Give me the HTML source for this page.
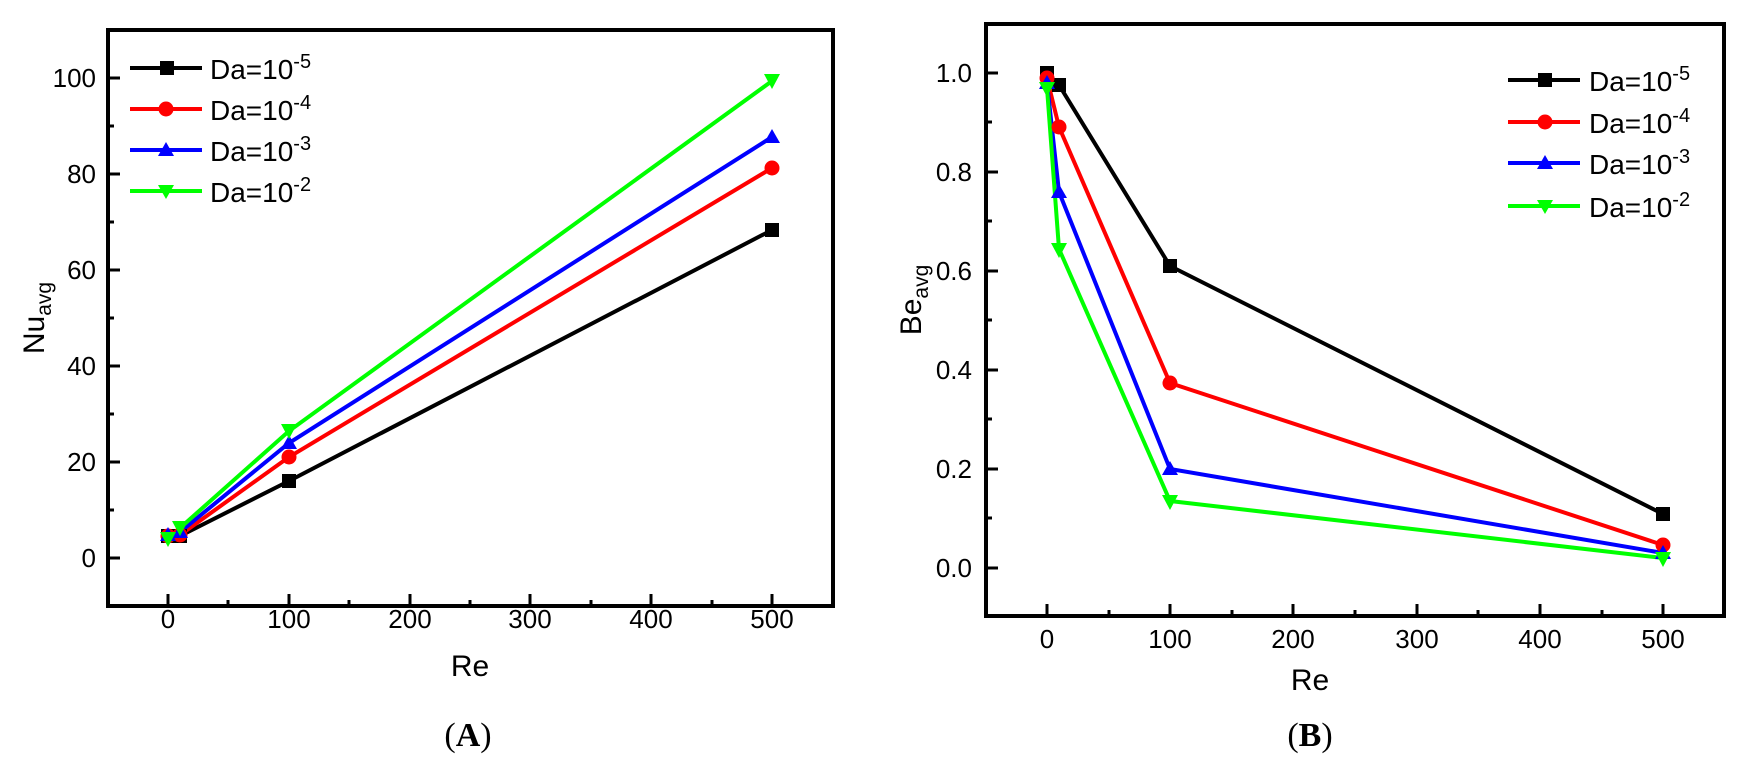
<!DOCTYPE html>
<html><head><meta charset="utf-8"><style>
body{margin:0;background:#fff}
svg{display:block}
text{font-family:"Liberation Sans",Arial,sans-serif;fill:#000}
</style></head><body>
<svg width="1748" height="770" viewBox="0 0 1748 770" xmlns="http://www.w3.org/2000/svg">
<g>
<rect x="108" y="30" width="725" height="576" fill="none" stroke="#000" stroke-width="4"/>
<g stroke="#000" stroke-width="3">
<line x1="168" y1="606" x2="168" y2="594"/><line x1="289" y1="606" x2="289" y2="594"/><line x1="410" y1="606" x2="410" y2="594"/><line x1="530" y1="606" x2="530" y2="594"/><line x1="651" y1="606" x2="651" y2="594"/><line x1="772" y1="606" x2="772" y2="594"/>
<line x1="228" y1="606" x2="228" y2="600"/><line x1="349" y1="606" x2="349" y2="600"/><line x1="470" y1="606" x2="470" y2="600"/><line x1="591" y1="606" x2="591" y2="600"/><line x1="712" y1="606" x2="712" y2="600"/>
<line x1="108" y1="558" x2="120" y2="558"/><line x1="108" y1="462" x2="120" y2="462"/><line x1="108" y1="366" x2="120" y2="366"/><line x1="108" y1="270" x2="120" y2="270"/><line x1="108" y1="174" x2="120" y2="174"/><line x1="108" y1="78" x2="120" y2="78"/>
<line x1="108" y1="510" x2="114" y2="510"/><line x1="108" y1="414" x2="114" y2="414"/><line x1="108" y1="318" x2="114" y2="318"/><line x1="108" y1="222" x2="114" y2="222"/><line x1="108" y1="126" x2="114" y2="126"/>
</g>
<g font-size="26" text-anchor="end">
<text x="96" y="567">0</text><text x="96" y="471">20</text><text x="96" y="375">40</text><text x="96" y="279">60</text><text x="96" y="183">80</text><text x="96" y="87">100</text>
</g>
<g font-size="26" text-anchor="middle">
<text x="168" y="628">0</text><text x="289" y="628">100</text><text x="410" y="628">200</text><text x="530" y="628">300</text><text x="651" y="628">400</text><text x="772" y="628">500</text>
</g>
<text x="470" y="676" font-size="30" text-anchor="middle">Re</text>
<text transform="translate(44,318) rotate(-90)" font-size="30" text-anchor="middle">Nu<tspan font-size="21" dy="7">avg</tspan></text>
<text x="468" y="746" font-size="34" text-anchor="middle" style="font-family:'Liberation Serif',serif">(<tspan font-weight="bold">A</tspan>)</text>
<polyline points="168,536 180,536 289,481 772,230" fill="none" stroke="#000" stroke-width="4"/>
<polyline points="168,536 180,535 289,457 772,168" fill="none" stroke="#f00" stroke-width="4"/>
<polyline points="168,535 180,532 289,443 772,137" fill="none" stroke="#00f" stroke-width="4"/>
<polyline points="168,539 180,528 289,431 772,81" fill="none" stroke="#0f0" stroke-width="4"/>
<g fill="#000"><rect x="161" y="529" width="14" height="14"/><rect x="173" y="529" width="14" height="14"/><rect x="282" y="474" width="14" height="14"/><rect x="765" y="223" width="14" height="14"/></g>
<g fill="#f00"><circle cx="168" cy="536" r="7.5"/><circle cx="180" cy="535" r="7.5"/><circle cx="289" cy="457" r="7.5"/><circle cx="772" cy="168" r="7.5"/></g>
<g fill="#00f"><polygon points="168,527 176,541 160,541"/><polygon points="180,524 188,538 172,538"/><polygon points="289,435 297,449 281,449"/><polygon points="772,129 780,143 764,143"/></g>
<g fill="#0f0"><polygon points="160,532 176,532 168,547"/><polygon points="172,521 188,521 180,536"/><polygon points="281,424 297,424 289,439"/><polygon points="764,74 780,74 772,89"/></g>
<line x1="130" y1="68" x2="202" y2="68" stroke="#000" stroke-width="4"/><rect x="160" y="61" width="14" height="14" fill="#000"/>
<line x1="130" y1="109" x2="202" y2="109" stroke="#f00" stroke-width="4"/><circle cx="166" cy="109" r="7.5" fill="#f00"/>
<line x1="130" y1="150" x2="202" y2="150" stroke="#00f" stroke-width="4"/><polygon points="166,142 174,156 158,156" fill="#00f"/>
<line x1="130" y1="191" x2="202" y2="191" stroke="#0f0" stroke-width="4"/><polygon points="158,185 174,185 166,199" fill="#0f0"/>
<g font-size="28">
<text x="210" y="79">Da=10<tspan font-size="20" dy="-11">-5</tspan></text>
<text x="210" y="120">Da=10<tspan font-size="20" dy="-11">-4</tspan></text>
<text x="210" y="161">Da=10<tspan font-size="20" dy="-11">-3</tspan></text>
<text x="210" y="202">Da=10<tspan font-size="20" dy="-11">-2</tspan></text>
</g>
</g>

<g>
<rect x="986" y="24" width="738" height="592" fill="none" stroke="#000" stroke-width="4"/>
<g stroke="#000" stroke-width="3">
<line x1="1047" y1="616" x2="1047" y2="604"/><line x1="1170" y1="616" x2="1170" y2="604"/><line x1="1293" y1="616" x2="1293" y2="604"/><line x1="1417" y1="616" x2="1417" y2="604"/><line x1="1540" y1="616" x2="1540" y2="604"/><line x1="1663" y1="616" x2="1663" y2="604"/>
<line x1="1109" y1="616" x2="1109" y2="610"/><line x1="1232" y1="616" x2="1232" y2="610"/><line x1="1355" y1="616" x2="1355" y2="610"/><line x1="1478" y1="616" x2="1478" y2="610"/><line x1="1602" y1="616" x2="1602" y2="610"/>
<line x1="986" y1="568" x2="998" y2="568"/><line x1="986" y1="469" x2="998" y2="469"/><line x1="986" y1="370" x2="998" y2="370"/><line x1="986" y1="271" x2="998" y2="271"/><line x1="986" y1="172" x2="998" y2="172"/><line x1="986" y1="73" x2="998" y2="73"/>
<line x1="986" y1="518" x2="992" y2="518"/><line x1="986" y1="419" x2="992" y2="419"/><line x1="986" y1="320" x2="992" y2="320"/><line x1="986" y1="221" x2="992" y2="221"/><line x1="986" y1="122" x2="992" y2="122"/>
</g>
<g font-size="26" text-anchor="end">
<text x="972" y="577">0.0</text><text x="972" y="478">0.2</text><text x="972" y="379">0.4</text><text x="972" y="280">0.6</text><text x="972" y="181">0.8</text><text x="972" y="82">1.0</text>
</g>
<g font-size="26" text-anchor="middle">
<text x="1047" y="648">0</text><text x="1170" y="648">100</text><text x="1293" y="648">200</text><text x="1417" y="648">300</text><text x="1540" y="648">400</text><text x="1663" y="648">500</text>
</g>
<text x="1310" y="690" font-size="30" text-anchor="middle">Re</text>
<text transform="translate(921,300) rotate(-90)" font-size="30" text-anchor="middle">Be<tspan font-size="21" dy="7">avg</tspan></text>
<text x="1310" y="746" font-size="34" text-anchor="middle" style="font-family:'Liberation Serif',serif">(<tspan font-weight="bold">B</tspan>)</text>
<polyline points="1047,73 1059,85 1170,266 1663,514" fill="none" stroke="#000" stroke-width="4"/>
<polyline points="1047,78 1059,127 1170,383 1663,545" fill="none" stroke="#f00" stroke-width="4"/>
<polyline points="1047,83 1059,192 1170,469 1663,553" fill="none" stroke="#00f" stroke-width="4"/>
<polyline points="1047,88 1059,249 1170,501 1663,558" fill="none" stroke="#0f0" stroke-width="4"/>
<g fill="#000"><rect x="1040" y="66" width="14" height="14"/><rect x="1052" y="78" width="14" height="14"/><rect x="1163" y="259" width="14" height="14"/><rect x="1656" y="507" width="14" height="14"/></g>
<g fill="#f00"><circle cx="1047" cy="78" r="7.5"/><circle cx="1059" cy="127" r="7.5"/><circle cx="1170" cy="383" r="7.5"/><circle cx="1663" cy="545" r="7.5"/></g>
<g fill="#00f"><polygon points="1047,75 1055,89 1039,89"/><polygon points="1059,184 1067,198 1051,198"/><polygon points="1170,461 1178,475 1162,475"/><polygon points="1663,545 1671,559 1655,559"/></g>
<g fill="#0f0"><polygon points="1039,82 1055,82 1047,97"/><polygon points="1051,243 1067,243 1059,258"/><polygon points="1162,495 1178,495 1170,510"/><polygon points="1655,552 1671,552 1663,567"/></g>
<line x1="1508" y1="80" x2="1580" y2="80" stroke="#000" stroke-width="4"/><rect x="1538" y="73" width="14" height="14" fill="#000"/>
<line x1="1508" y1="122" x2="1580" y2="122" stroke="#f00" stroke-width="4"/><circle cx="1545" cy="122" r="7.5" fill="#f00"/>
<line x1="1508" y1="163" x2="1580" y2="163" stroke="#00f" stroke-width="4"/><polygon points="1545,155 1553,169 1537,169" fill="#00f"/>
<line x1="1508" y1="206" x2="1580" y2="206" stroke="#0f0" stroke-width="4"/><polygon points="1537,200 1553,200 1545,214" fill="#0f0"/>
<g font-size="28">
<text x="1589" y="91">Da=10<tspan font-size="20" dy="-11">-5</tspan></text>
<text x="1589" y="133">Da=10<tspan font-size="20" dy="-11">-4</tspan></text>
<text x="1589" y="174">Da=10<tspan font-size="20" dy="-11">-3</tspan></text>
<text x="1589" y="217">Da=10<tspan font-size="20" dy="-11">-2</tspan></text>
</g>
</g>
</svg>
</body></html>
